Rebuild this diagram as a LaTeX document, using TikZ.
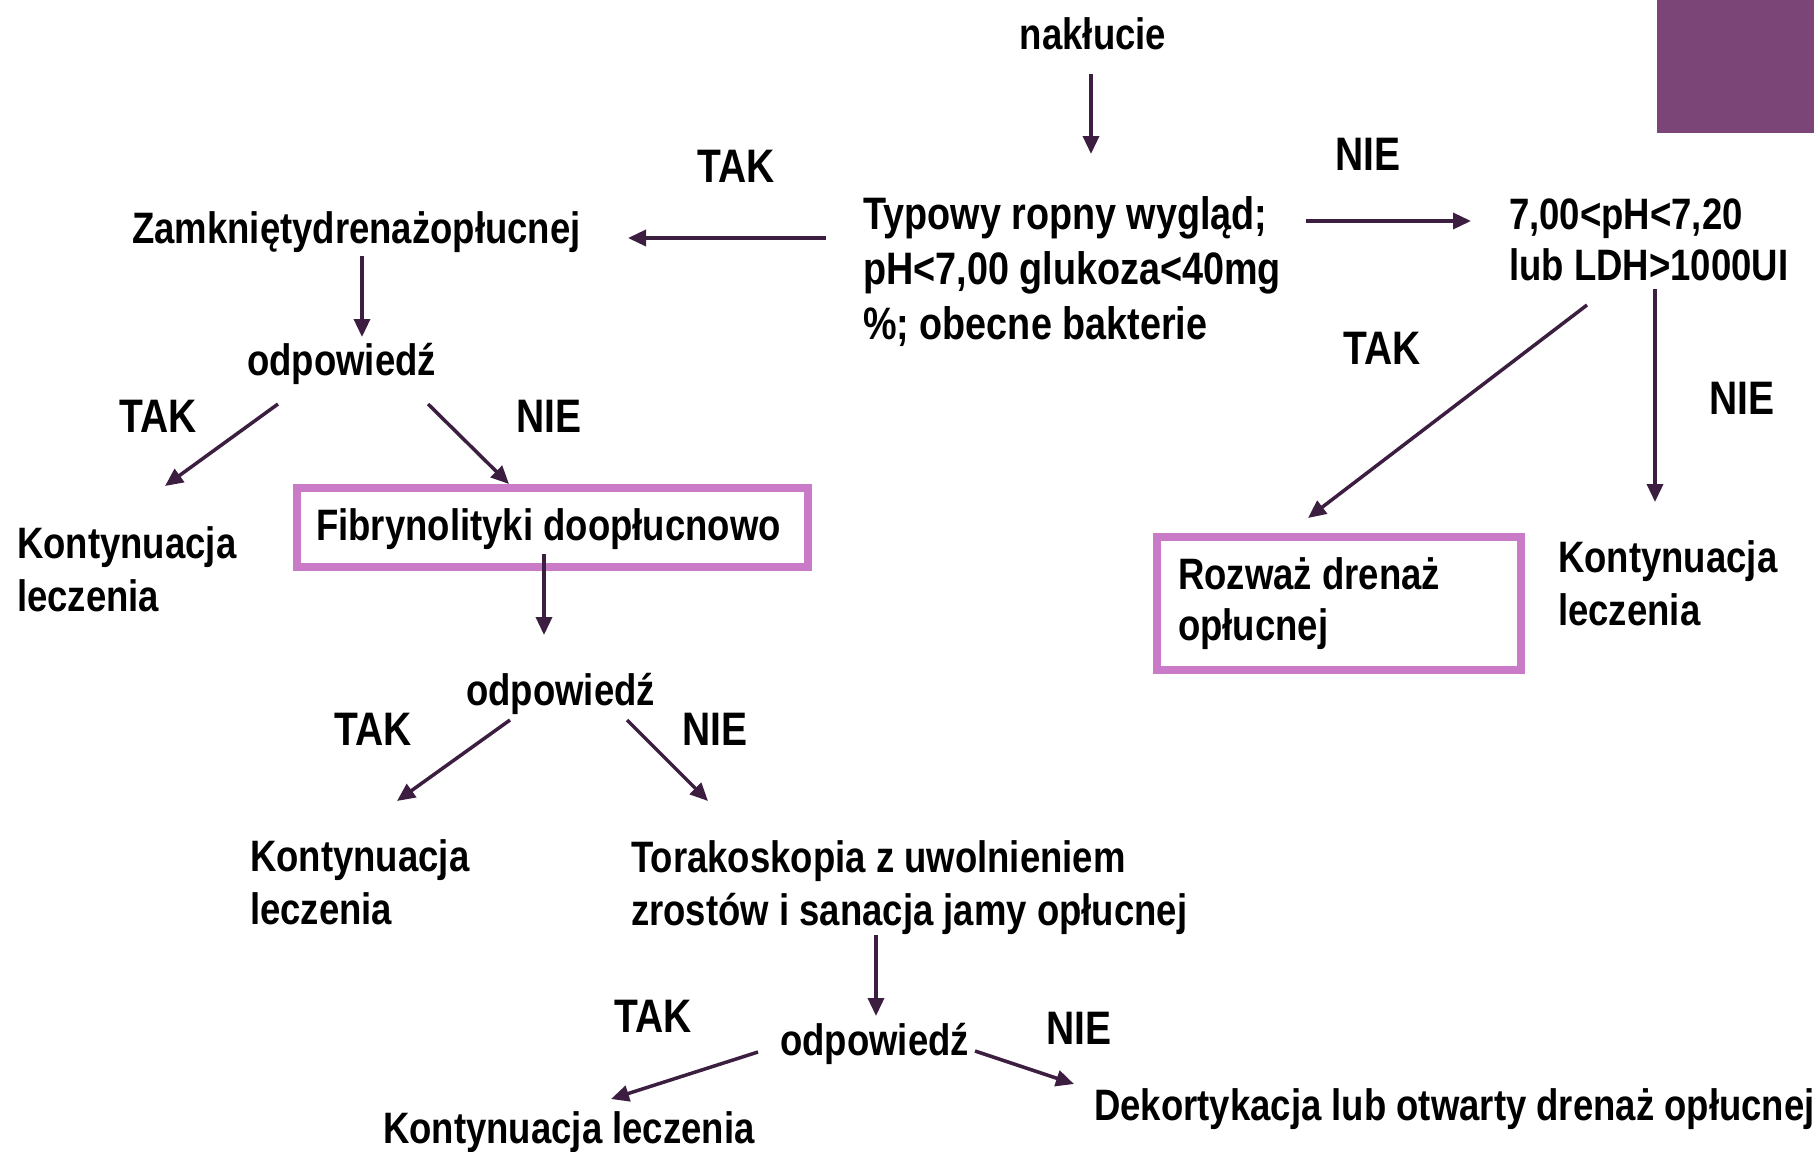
\documentclass[tikz,border=0pt]{standalone}
\usepackage{fontspec}
\setmainfont{Liberation Sans}[FakeStretch=0.83]
\usetikzlibrary{arrows.meta}
\definecolor{arr}{RGB}{60,30,64}
\definecolor{boxc}{RGB}{201,123,200}
\definecolor{corner}{RGB}{123,70,119}
\begin{document}
\begin{tikzpicture}[x=1pt,y=-1pt,
  txt/.style={inner sep=0pt, anchor=base west, align=left, font=\fontsize{44}{53}\selectfont\bfseries},
  lbl/.style={inner sep=0pt, anchor=base west, font=\fontsize{47}{56}\selectfont\bfseries},
  conn/.style={draw=arr, line width=3.5pt, -{Triangle[length=18pt,width=16pt]}},
  frame/.style={draw=boxc, line width=8pt, inner sep=0pt}]
\useasboundingbox (0,0) rectangle (1814,1151);

% corner decoration
\node[fill=corner, inner sep=0pt, minimum width=157pt, minimum height=133pt, anchor=north west] (corner) at (1657,0) {};

% boxes
\node[frame, minimum width=511pt, minimum height=79pt] (fibbox) at (552.5,527.5) {};
\node[frame, minimum width=364pt, minimum height=133pt] (rozbox) at (1339,603.5) {};

% texts (multi-line nodes are placed by the baseline of their last line)
\node[txt, anchor=base] (nak) at (1093,49) {nakłucie};
\node[txt, font=\fontsize{45.5}{55}\selectfont\bfseries] (typ) at (863,339) {Typowy ropny wygląd;\\pH<7,00 glukoza<40mg\\\%; obecne bakterie};
\node[txt, font=\fontsize{44}{51}\selectfont\bfseries] (ph) at (1509,280) {7,00<pH<7,20\\lub LDH>1000UI};
\node[txt] (zam) at (132,243) {Zamkniętydrenażopłucnej};
\node[txt] (odp1) at (247,375) {odpowiedź};
\node[txt] (kon1) at (17,611) {Kontynuacja\\leczenia};
\node[txt] (fib) at (316,540) {Fibrynolityki doopłucnowo};
\node[txt] (odp2) at (466,705) {odpowiedź};
\node[txt] (kon2) at (250,924) {Kontynuacja\\leczenia};
\node[txt] (tor) at (631,925) {Torakoskopia z uwolnieniem\\zrostów i sanacja jamy opłucnej};
\node[txt] (odp3) at (780,1055) {odpowiedź};
\node[txt] (kon3) at (383,1143) {Kontynuacja leczenia};
\node[txt] (dek) at (1094,1120) {Dekortykacja lub otwarty drenaż opłucnej};
\node[txt, font=\fontsize{44}{51}\selectfont\bfseries] (roz) at (1178,640) {Rozważ drenaż\\opłucnej};
\node[txt] (kon4) at (1558,625) {Kontynuacja\\leczenia};

% labels
\node[lbl] (tak1) at (697,182) {TAK};
\node[lbl] (nie1) at (1335,170) {NIE};
\node[lbl] (tak2) at (119,432) {TAK};
\node[lbl] (nie2) at (516,432) {NIE};
\node[lbl] (tak3) at (334,745) {TAK};
\node[lbl] (nie3) at (682,745) {NIE};
\node[lbl] (tak4) at (614,1032) {TAK};
\node[lbl] (nie4) at (1046,1044) {NIE};
\node[lbl] (tak5) at (1343,364) {TAK};
\node[lbl] (nie5) at (1709,414) {NIE};

% connector end points
\coordinate (c1s) at (1091,74);   \coordinate (c1e) at (1091,154);
\coordinate (c2s) at (826,238);   \coordinate (c2e) at (628,238);
\coordinate (c3s) at (1306,221);  \coordinate (c3e) at (1471,221);
\coordinate (c4s) at (362,256);   \coordinate (c4e) at (362,337);
\coordinate (c5s) at (278,404);   \coordinate (c5e) at (165,486);
\coordinate (c6s) at (428,404);   \coordinate (c6e) at (509,484);
\coordinate (c7s) at (544,554);   \coordinate (c7e) at (544,635);
\coordinate (c8s) at (510,720);   \coordinate (c8e) at (397,801);
\coordinate (c9s) at (627,720);   \coordinate (c9e) at (708,801);
\coordinate (c10s) at (876,935);  \coordinate (c10e) at (876,1016);
\coordinate (c11s) at (758,1052); \coordinate (c11e) at (611,1099);
\coordinate (c12s) at (975,1051); \coordinate (c12e) at (1074,1084);
\coordinate (c13s) at (1587,305); \coordinate (c13e) at (1308,518);
\coordinate (c14s) at (1655,289); \coordinate (c14e) at (1655,502);

\foreach \i in {1,...,14} {\draw[conn] (c\i s) -- (c\i e);}
\end{tikzpicture}
\end{document}
